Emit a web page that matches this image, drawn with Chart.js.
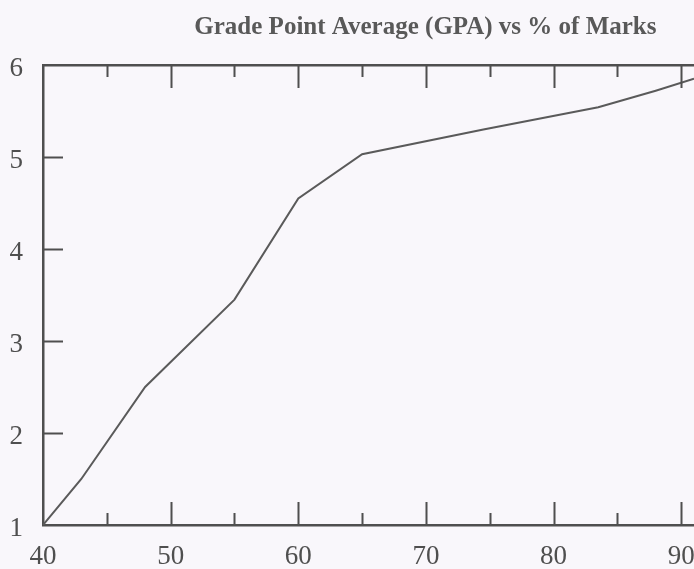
<!DOCTYPE html>
<html>
<head>
<meta charset="utf-8">
<script src="https://cdn.jsdelivr.net/npm/chart.js@4.4.1/dist/chart.umd.min.js"></script>
<style>
  html, body { margin: 0; padding: 0; background: #f9f7fb; }
  #c { display: block; }
</style>
</head>
<body>
<canvas id="c" width="694" height="569"></canvas>
<script>
// ---- data ----
const titleText = 'Grade Point Average (GPA) vs % of Marks';
const marksPercent = [40, 43, 48, 55, 60, 65, 74.5, 83.5, 88, 91];
const gpaValues    = [1, 1.5, 2.5, 3.45, 4.55, 5.03, 5.3, 5.54, 5.72, 5.85];
const xTickLabels  = [40, 50, 60, 70, 80, 90];
const xMajorMarks  = [50, 60, 70, 80, 90];
const xMinorMarks  = [45, 55, 65, 75, 85];
const yTickLabels  = [1, 2, 3, 4, 5, 6];
const yMarks       = [2, 3, 4, 5];

const ink = '#4f4f4f';
const serif = "'Liberation Serif', 'DejaVu Serif', serif";

const insideTicks = {
  id: 'insideTicks',
  afterDatasetsDraw(chart) {
    const {ctx, chartArea: a, scales: {x, y}} = chart;
    ctx.save();
    ctx.strokeStyle = ink;
    ctx.lineWidth = 2;
    const vt = (v, len) => {
      const px = Math.round(x.getPixelForValue(v)) + 0.5;
      ctx.beginPath();
      ctx.moveTo(px, a.bottom); ctx.lineTo(px, a.bottom - len);
      ctx.moveTo(px, a.top); ctx.lineTo(px, a.top + len);
      ctx.stroke();
    };
    xMajorMarks.forEach(v => vt(v, 23));
    xMinorMarks.forEach(v => vt(v, 12));
    yMarks.forEach(v => {
      const py = Math.round(y.getPixelForValue(v)) + 0.5;
      ctx.beginPath();
      ctx.moveTo(a.left, py); ctx.lineTo(a.left + 20, py);
      ctx.stroke();
    });
    ctx.restore();
  }
};

new Chart(document.getElementById('c'), {
  type: 'line',
  data: {
    datasets: [{
      data: marksPercent.map((m, i) => ({x: m, y: gpaValues[i]})),
      borderColor: '#5a5a5a',
      borderWidth: 2,
      pointRadius: 0,
      tension: 0,
      fill: false
    }]
  },
  options: {
    responsive: false,
    animation: false,
    devicePixelRatio: 1,
    layout: { padding: { left: 0, right: 0, top: 0, bottom: 0 } },
    plugins: {
      legend: { display: false },
      tooltip: { enabled: false },
      title: {
        display: true,
        text: titleText + '\u2002\u2002\u2002',
        align: 'end',
        color: '#595959',
        font: { family: serif, size: 25, weight: 'bold' },
        padding: { top: 13, bottom: 22 }
      }
    },
    scales: {
      x: {
        type: 'linear',
        position: 'bottom',
        min: 40, max: 91,
        afterBuildTicks: s => { s.ticks = xTickLabels.map(v => ({value: v})); },
        afterFit: s => { s.height = 44; s.paddingRight = 0; s.paddingLeft = 0; },
        grid: { display: false, drawTicks: false },
        border: { display: true, color: ink, width: 2.5 },
        ticks: { color: ink, padding: 16, maxRotation: 0, autoSkip: false,
                 font: { family: serif, size: 27 } }
      },
      x2: {
        type: 'linear',
        position: 'top',
        min: 40, max: 91,
        grid: { display: false, drawTicks: false },
        border: { display: true, color: ink, width: 2.5 },
        ticks: { display: false }
      },
      y: {
        type: 'linear',
        min: 1, max: 6,
        afterBuildTicks: s => { s.ticks = yTickLabels.map(v => ({value: v})); },
        afterFit: s => { s.width = 43; s.paddingTop = 0; s.paddingBottom = 0; },
        grid: { display: false, drawTicks: false },
        border: { display: true, color: ink, width: 2.5 },
        ticks: { color: ink, padding: 20, labelOffset: 4,
                 font: { family: serif, size: 27 } }
      }
    }
  },
  plugins: [insideTicks]
});
</script>
</body>
</html>
